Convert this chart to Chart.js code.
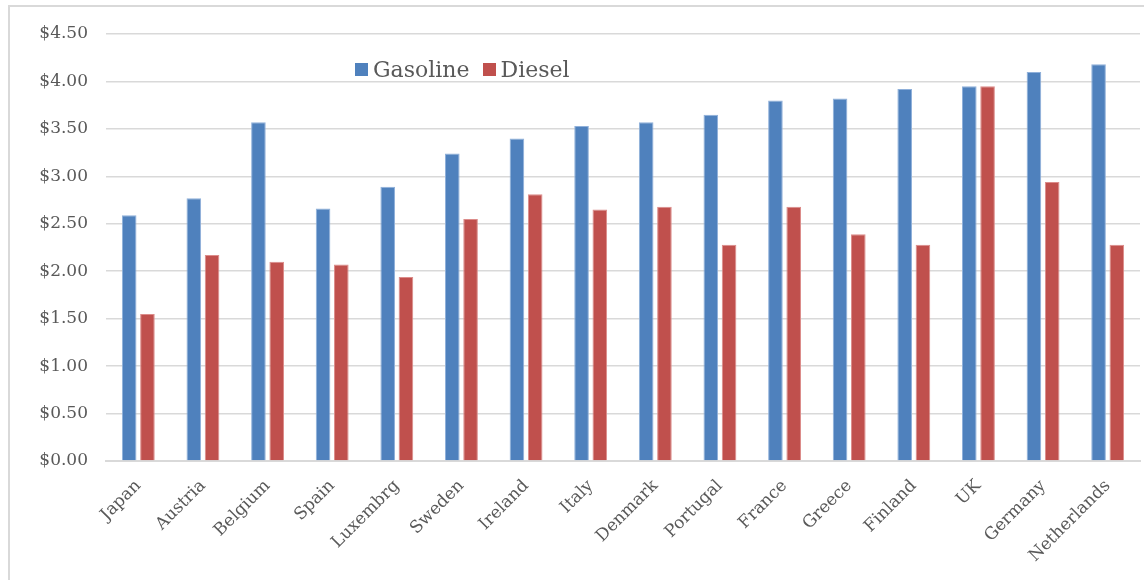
<!DOCTYPE html>
<html>
<head>
<meta charset="utf-8">
<script src="https://cdn.jsdelivr.net/npm/chart.js@4"></script>
<style>
  html, body { margin: 0; padding: 0; background: #fff; }
  #wrap { position: relative; width: 1144px; height: 580px; overflow: hidden; }
  #frame {
    position: absolute; left: 8px; top: 5px; width: 1200px; height: 640px;
    border: 2px solid #d9d9d9; box-sizing: border-box;
  }
  #chart { position: absolute; left: 0; top: 0; }
  #legend {
    position: absolute; left: 355px; top: 57px;
    font-family: "DejaVu Serif", serif; font-size: 22px; color: #595959;
    display: flex; align-items: center; white-space: nowrap;
  }
  #legend span.box { display: inline-block; width: 13px; height: 13px; margin-right: 5px; }
  #legend span.item { display: inline-flex; align-items: center; margin-right: 13px; }
</style>
</head>
<body>
<div id="wrap">
  <div id="frame"></div>
  <canvas id="chart" width="1144" height="580"></canvas>
  <div id="legend"></div>
</div>
<script>
// Countries, in the order they appear
const countries = ['Japan', 'Austria', 'Belgium', 'Spain', 'Luxembrg', 'Sweden', 'Ireland', 'Italy',
    'Denmark', 'Portugal', 'France', 'Greece', 'Finland', 'UK', 'Germany', 'Netherlands'];

// Price per gallon in US dollars
const gasoline = [2.59, 2.77, 3.57, 2.66, 2.89, 3.24, 3.40, 3.53, 3.57, 3.65, 3.80, 3.82, 3.92, 3.95, 4.10, 4.18];
const diesel   = [1.55, 2.17, 2.10, 2.07, 1.94, 2.55, 2.81, 2.65, 2.68, 2.28, 2.68, 2.39, 2.28, 3.95, 2.94, 2.28];

// y axis tick values
const yTicks = [0, 0.5, 1, 1.5, 2, 2.5, 3, 3.5, 4, 4.5];

const seriesNames = ['Gasoline', 'Diesel'];
const seriesColors = ['#4f81bd', '#c0504d'];
const seriesBorders = ['#8fb0da', '#dc8c8a'];

const ctx = document.getElementById('chart').getContext('2d');
const chart = new Chart(ctx, {
    type: 'bar',
    data: {
        labels: countries,
        datasets: [gasoline, diesel].map((vals, i) => ({
            label: seriesNames[i],
            data: vals,
            backgroundColor: seriesColors[i],
            borderColor: seriesBorders[i],
            borderWidth: 1,
            categoryPercentage: 0.565,
            barPercentage: 0.8
        }))
    },
    options: {
        responsive: false,
        animation: false,
        layout: { padding: { top: 34, right: 4, bottom: 0, left: 0 } },
        plugins: {
            legend: { display: false },
            tooltip: { enabled: false }
        },
        scales: {
            x: {
                grid: { display: false },
                border: { color: '#d9d9d9', width: 2 },
                ticks: {
                    color: '#595959',
                    font: { family: 'DejaVu Serif', size: 17 },
                    minRotation: 45, maxRotation: 45,
                    padding: 7,
                    autoSkip: false
                },
                afterFit: function (scale) { scale.height = 119; }
            },
            y: {
                min: 0,
                max: 4.5,
                afterBuildTicks: function (scale) {
                    scale.ticks = yTicks.map(v => ({ value: v }));
                },
                grid: { color: '#d9d9d9', lineWidth: 1.5, drawTicks: false },
                border: { display: false },
                ticks: {
                    color: '#595959',
                    font: { family: 'DejaVu Serif', size: 17 },
                    padding: 18,
                    callback: v => '$' + Number(v).toFixed(2)
                },
                afterFit: function (scale) { scale.width = 106; }
            }
        }
    }
});

// legend drawn as html text, placed inside the plot like the original
const legend = document.getElementById('legend');
chart.data.datasets.forEach(ds => {
    const item = document.createElement('span');
    item.className = 'item';
    const box = document.createElement('span');
    box.className = 'box';
    box.style.background = ds.backgroundColor;
    item.appendChild(box);
    item.appendChild(document.createTextNode(ds.label));
    legend.appendChild(item);
});
</script>
</body>
</html>
